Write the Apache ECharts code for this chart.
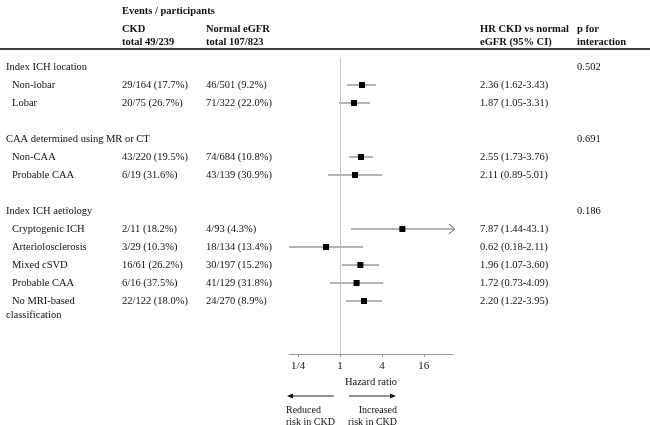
<!DOCTYPE html>
<html>
<head>
<meta charset="utf-8">
<script src="https://cdn.jsdelivr.net/npm/echarts@6/dist/echarts.min.js"></script>
<style>
  html, body { margin: 0; padding: 0; background: #fff; }
  #chart { width: 650px; height: 425px; }
</style>
</head>
<body>
<div id="chart"></div>
<script>
// group headings and their p for interaction
const groups = ['Index ICH location', 'CAA determined using MR or CT', 'Index ICH aetiology'];
const groupRows = [0, 4, 8];
const pInteraction = ['0.502', '0.691', '0.186'];

// subgroups
const subgroups = ['Non-lobar', 'Lobar', 'Non-CAA', 'Probable CAA', 'Cryptogenic ICH',
  'Arteriolosclerosis', 'Mixed cSVD', 'Probable CAA', 'No MRI-based'];
const subRows = [1, 2, 5, 6, 9, 10, 11, 12, 13];
const ckdEvents = ['29/164 (17.7%)', '20/75 (26.7%)', '43/220 (19.5%)', '6/19 (31.6%)', '2/11 (18.2%)',
  '3/29 (10.3%)', '16/61 (26.2%)', '6/16 (37.5%)', '22/122 (18.0%)'];
const normalEvents = ['46/501 (9.2%)', '71/322 (22.0%)', '74/684 (10.8%)', '43/139 (30.9%)', '4/93 (4.3%)',
  '18/134 (13.4%)', '30/197 (15.2%)', '41/129 (31.8%)', '24/270 (8.9%)'];
const hrText = ['2.36 (1.62-3.43)', '1.87 (1.05-3.31)', '2.55 (1.73-3.76)', '2.11 (0.89-5.01)', '7.87 (1.44-43.1)',
  '0.62 (0.18-2.11)', '1.96 (1.07-3.60)', '1.72 (0.73-4.09)', '2.20 (1.22-3.95)'];

// plotted estimates as drawn
const hrEst = [2.07, 1.59, 2.0, 1.64, 7.87, 0.63, 1.96, 1.73, 2.21];
const hrLow = [1.26, 0.97, 1.35, 0.67, 1.44, 0.186, 1.06, 0.72, 1.22];
const hrHigh = [3.28, 2.69, 2.97, 4.0, 43.1, 2.14, 3.66, 4.17, 4.04];

const xTicks = [0.25, 1, 4, 16];
const xTickLabels = ['1/4', '1', '4', '16'];
const xMin = 0.185, xMax = 42;

const FONT = '"Liberation Serif", "DejaVu Serif", serif';
const FS = 10.5;
const txtColor = '#111';

const chart = echarts.init(document.getElementById('chart'));

// text column as a custom series on the full-width grid
function textColumn(colX, rows, texts) {
  return {
    type: 'custom',
    xAxisIndex: 1,
    yAxisIndex: 1,
    silent: true,
    data: rows.map((r, i) => [colX, r]),
    renderItem: function (params, api) {
      const p = api.coord([api.value(0), api.value(1)]);
      return {
        type: 'text',
        x: p[0],
        y: p[1],
        style: {
          text: texts[params.dataIndex],
          fill: txtColor,
          font: FS + 'px ' + FONT,
          textAlign: 'left',
          textVerticalAlign: 'middle'
        }
      };
    }
  };
}

const forestData = hrEst.map((v, i) => [v, hrLow[i], hrHigh[i], subRows[i]]);
const headFont = 'bold ' + FS + 'px ' + FONT;

const option = {
  animation: false,
  grid: [
    { left: 289, width: 164, top: 58, height: 296 },
    { left: 0, right: 0, top: 58, height: 296 }
  ],
  xAxis: [
    {
      type: 'log',
      logBase: 2,
      gridIndex: 0,
      position: 'bottom',
      min: xMin,
      max: xMax,
      name: 'Hazard ratio',
      nameLocation: 'middle',
      nameGap: 16,
      nameTextStyle: { fontFamily: FONT, fontSize: 10.5, color: txtColor },
      axisLine: { onZero: false, lineStyle: { color: '#999', width: 1 } },
      axisTick: { length: 3, lineStyle: { color: '#999' }, customValues: xTicks },
      axisLabel: {
        customValues: xTicks,
        margin: 7,
        fontFamily: FONT,
        fontSize: 11,
        color: txtColor,
        formatter: v => xTickLabels[xTicks.indexOf(v)] ?? ''
      },
      splitLine: { show: false }
    },
    { type: 'value', gridIndex: 1, min: 0, max: 650, show: false }
  ],
  yAxis: [
    { type: 'value', gridIndex: 0, min: -0.5, max: -0.5 + 296 / 18, inverse: true, show: false },
    { type: 'value', gridIndex: 1, min: -0.5, max: -0.5 + 296 / 18, inverse: true, show: false }
  ],
  series: [
    {
      type: 'custom',
      xAxisIndex: 0,
      yAxisIndex: 0,
      clip: false,
      silent: true,
      data: forestData,
      encode: { x: [0, 1, 2], y: 3 },
      renderItem: function (params, api) {
        const row = api.value(3);
        const hi = Math.min(api.value(2), 43.1);
        const c = api.coord([api.value(0), row]);
        const l = api.coord([api.value(1), row]);
        const h = api.coord([hi, row]);
        const children = [
          { type: 'line', shape: { x1: l[0], y1: l[1], x2: h[0], y2: h[1] },
            style: { stroke: '#666', lineWidth: 1 } },
          { type: 'rect', shape: { x: c[0] - 3, y: c[1] - 3, width: 6, height: 6 },
            style: { fill: '#000' } }
        ];
        if (api.value(2) > xMax) {
          children.push({ type: 'polyline',
            shape: { points: [[h[0] - 5, h[1] - 5], [h[0] + 1, h[1]], [h[0] - 5, h[1] + 5]] },
            style: { stroke: '#555', fill: null, lineWidth: 1 } });
        }
        return { type: 'group', children: children };
      },
      markLine: {
        silent: true,
        symbol: 'none',
        label: { show: false },
        lineStyle: { color: '#c4c4c4', type: 'solid', width: 1 },
        data: [{ xAxis: 1 }]
      },
      z: 3
    },
    textColumn(6, groupRows, groups),
    textColumn(12, subRows, subgroups),
    textColumn(6, [13.78], ['classification']),
    textColumn(122, subRows, ckdEvents),
    textColumn(206, subRows, normalEvents),
    textColumn(480, subRows, hrText),
    textColumn(577, groupRows, pInteraction)
  ],
  graphic: [
    { type: 'text', left: 122, top: 6, style: { text: 'Events / participants', font: headFont, fill: txtColor } },
    { type: 'text', left: 122, top: 23, style: { text: 'CKD\ntotal 49/239', font: headFont, fill: txtColor, lineHeight: 13 } },
    { type: 'text', left: 206, top: 23, style: { text: 'Normal eGFR\ntotal 107/823', font: headFont, fill: txtColor, lineHeight: 13 } },
    { type: 'text', left: 480, top: 23, style: { text: 'HR CKD vs normal\neGFR (95% CI)', font: headFont, fill: txtColor, lineHeight: 13 } },
    { type: 'text', left: 577, top: 23, style: { text: 'p for\ninteraction', font: headFont, fill: txtColor, lineHeight: 13 } },
    { type: 'line', shape: { x1: 0, y1: 49, x2: 650, y2: 49 }, style: { stroke: '#000', lineWidth: 1.5 } },
    // direction arrows
    { type: 'line', shape: { x1: 334, y1: 396, x2: 292, y2: 396 }, style: { stroke: '#222', lineWidth: 1 } },
    { type: 'polygon', shape: { points: [[287, 396], [293, 393.5], [293, 398.5]] }, style: { fill: '#111' } },
    { type: 'line', shape: { x1: 349, y1: 396, x2: 391, y2: 396 }, style: { stroke: '#222', lineWidth: 1 } },
    { type: 'polygon', shape: { points: [[396, 396], [390, 393.5], [390, 398.5]] }, style: { fill: '#111' } },
    { type: 'text', x: 286, y: 405, style: { text: 'Reduced\nrisk in CKD', font: '10px ' + FONT, fill: txtColor, lineHeight: 11.5, textAlign: 'left', textVerticalAlign: 'top' } },
    { type: 'text', x: 397, y: 405, style: { text: 'Increased\nrisk in CKD', font: '10px ' + FONT, fill: txtColor, lineHeight: 11.5, textAlign: 'right', textVerticalAlign: 'top' } }
  ]
};

chart.setOption(option);
</script>
</body>
</html>
